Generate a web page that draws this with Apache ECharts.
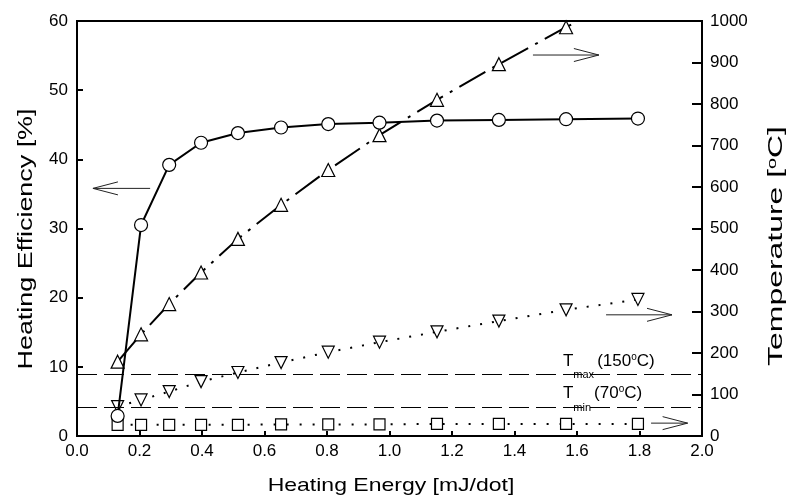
<!DOCTYPE html>
<html>
<head>
<meta charset="utf-8">
<script src="https://cdn.jsdelivr.net/npm/echarts@6/dist/echarts.min.js"></script>
<style>
html, body { margin: 0; padding: 0; background: #fff; }
#chart { width: 790px; height: 499px; }
</style>
</head>
<body>
<div id="chart"></div>
<script>
// heating energy per dot [mJ/dot]
const energy = [0.13, 0.205, 0.295, 0.397, 0.515, 0.653, 0.804, 0.968, 1.152, 1.35, 1.565, 1.795]
// heating efficiency [%] (left axis)
const efficiency = [2.9, 30.5, 39.2, 42.4, 43.8, 44.6, 45.1, 45.3, 45.6, 45.7, 45.8, 45.9]
// temperatures [oC] (right axis)
const tempUp = [179, 245, 318, 394, 475, 557, 641, 725, 810, 896, 985, 1075]
const tempDown = [71, 87, 107, 131, 153, 177, 202, 226, 251, 277, 304, 329]
const tempSquare = [27, 27, 27, 27, 27, 28, 28, 28, 29, 29, 29, 29]
// reference levels
const tMax = 150
const tMin = 70

const FONT = 'Liberation Sans, Arial, sans-serif'
const pairs = (ys) => energy.map((x, i) => [x, ys[i]])

const chart = echarts.init(document.getElementById('chart'))

const markerStyle = {
  color: '#fff',
  borderColor: '#000',
  borderWidth: 1.2
}

chart.setOption({
  animation: false,
  backgroundColor: '#fff',
  grid: {
    left: 77,
    right: 88,
    top: 21,
    bottom: 63,
    outerBoundsMode: 'none',
    containLabel: false,
    show: true,
    borderColor: '#000',
    borderWidth: 2,
    backgroundColor: 'transparent'
  },
  xAxis: {
    type: 'value',
    min: 0,
    max: 2,
    interval: 0.2,
    axisLine: { lineStyle: { color: '#000', width: 2 } },
    axisTick: { inside: true, length: 5, lineStyle: { color: '#000', width: 2 } },
    axisLabel: {
      color: '#000',
      fontSize: 17,
      fontFamily: FONT,
      margin: 7,
      formatter: (v) => v.toFixed(1)
    },
    splitLine: { show: false }
  },
  yAxis: [
    {
      type: 'value',
      position: 'left',
      min: 0,
      max: 60,
      interval: 10,
      axisLine: { show: true, lineStyle: { color: '#000', width: 2 } },
      axisTick: { show: true, inside: true, length: 6, lineStyle: { color: '#000', width: 2 } },
      axisLabel: { color: '#000', fontSize: 17, fontFamily: FONT, margin: 9 },
      splitLine: { show: false }
    },
    {
      type: 'value',
      position: 'right',
      min: 0,
      max: 1000,
      interval: 100,
      axisLine: { show: true, lineStyle: { color: '#000', width: 2 } },
      axisTick: { show: true, inside: true, length: 10, lineStyle: { color: '#000', width: 2 } },
      axisLabel: { color: '#000', fontSize: 17, fontFamily: FONT, margin: 8, formatter: (v) => String(v) },
      splitLine: { show: false }
    }
  ],
  series: [
    {
      name: 'efficiency',
      type: 'line',
      yAxisIndex: 0,
      data: pairs(efficiency),
      symbol: 'circle',
      symbolSize: 13,
      itemStyle: markerStyle,
      lineStyle: { color: '#000', width: 2 },
      z: 5
    },
    {
      name: 'peak temperature',
      type: 'line',
      yAxisIndex: 1,
      data: pairs(tempUp),
      symbol: 'triangle',
      symbolSize: 13,
      itemStyle: markerStyle,
      lineStyle: { color: '#000', width: 2, type: [30, 8, 3, 8] },
      z: 4
    },
    {
      name: 'surface temperature',
      type: 'line',
      yAxisIndex: 1,
      data: pairs(tempDown),
      symbol: 'triangle',
      symbolRotate: 180,
      symbolSize: 12,
      itemStyle: markerStyle,
      lineStyle: { color: '#000', width: 2, type: [2, 10] },
      z: 3
    },
    {
      name: 'base temperature',
      type: 'line',
      yAxisIndex: 1,
      data: pairs(tempSquare),
      symbol: 'rect',
      symbolSize: 11,
      itemStyle: markerStyle,
      lineStyle: { color: '#000', width: 2, type: [2, 11] },
      z: 3,
      markLine: {
        silent: true,
        symbol: ['none', 'none'],
        label: { show: false },
        lineStyle: { color: '#000', width: 1.2, type: [20, 7] },
        data: [{ yAxis: tMax }, { yAxis: tMin }]
      }
    }
  ]
})

// annotations: arrows pointing to the axis each curve belongs to, and level labels
const arrows = [
  { axis: 0, from: [0.234, 35.8], to: [0.051, 35.8] },
  { axis: 1, from: [1.459, 918], to: [1.670, 918] },
  { axis: 1, from: [1.693, 292], to: [1.904, 292] },
  { axis: 1, from: [1.837, 31], to: [1.954, 31] }
]

const toPx = (axis, p) => chart.convertToPixel({ xAxisIndex: 0, yAxisIndex: axis }, p)

const graphics = []
arrows.forEach((a) => {
  const p0 = toPx(a.axis, a.from)
  const p1 = toPx(a.axis, a.to)
  const dir = p1[0] > p0[0] ? 1 : -1
  const headLen = 25
  const halfW = 6.5
  graphics.push({
    type: 'polyline',
    shape: { points: [p0, p1] },
    style: { stroke: '#222', lineWidth: 1, fill: null },
    z: 10
  })
  graphics.push({
    type: 'polyline',
    shape: {
      points: [
        [p1[0] - dir * headLen, p1[1] - halfW],
        p1,
        [p1[0] - dir * headLen, p1[1] + halfW]
      ]
    },
    style: { stroke: '#222', lineWidth: 1, fill: null },
    z: 10
  })
})

const levelRich = {
  t: { fontSize: 17, fontFamily: FONT, fill: '#000', lineHeight: 40 },
  sub: { fontSize: 11, fontFamily: FONT, fill: '#000', verticalAlign: 'bottom' },
  sup: { fontSize: 10, fontFamily: FONT, fill: '#000', padding: [11, 0, 0, 0], verticalAlign: 'top' }
}
const levels = [
  { text: '{t|T}{sub|max }{t|(150}{sup|o}{t|C)}', at: [1.555, 181] },
  { text: '{t|T}{sub|min }{t|(70}{sup|o}{t|C)}', at: [1.555, 102] }
]
levels.forEach((l) => {
  const p = toPx(1, l.at)
  graphics.push({
    type: 'text',
    x: p[0],
    y: p[1] - 20,
    style: {
      text: l.text,
      rich: levelRich,
      align: 'left',
      verticalAlign: 'top',
      fill: '#000'
    },
    z: 10
  })
})

// axis titles (the original lettering is wide, so it is stretched along the text)
const titleRich = {
  sup: { fontSize: 13, fontFamily: FONT, fill: '#000', verticalAlign: 'top' }
}
const titles = [
  { text: 'Heating Energy [mJ/dot]', x: 391, y: 486, rotation: 0, size: 19, stretch: 1.21 },
  { text: 'Heating Efficiency [%]', x: 26, y: 239, rotation: Math.PI / 2, size: 21, stretch: 1.28 },
  { text: 'Temperature [{sup|o}C]', x: 776, y: 246, rotation: Math.PI / 2, size: 21, stretch: 1.52 }
]
titles.forEach((t) => {
  graphics.push({
    type: 'text',
    x: t.x,
    y: t.y,
    rotation: t.rotation,
    scaleX: t.stretch,
    style: {
      text: t.text,
      rich: titleRich,
      fontSize: t.size,
      fontFamily: FONT,
      fill: '#000',
      align: 'center',
      verticalAlign: 'middle'
    }
  })
})

chart.setOption({ graphic: graphics })
</script>
</body>
</html>
